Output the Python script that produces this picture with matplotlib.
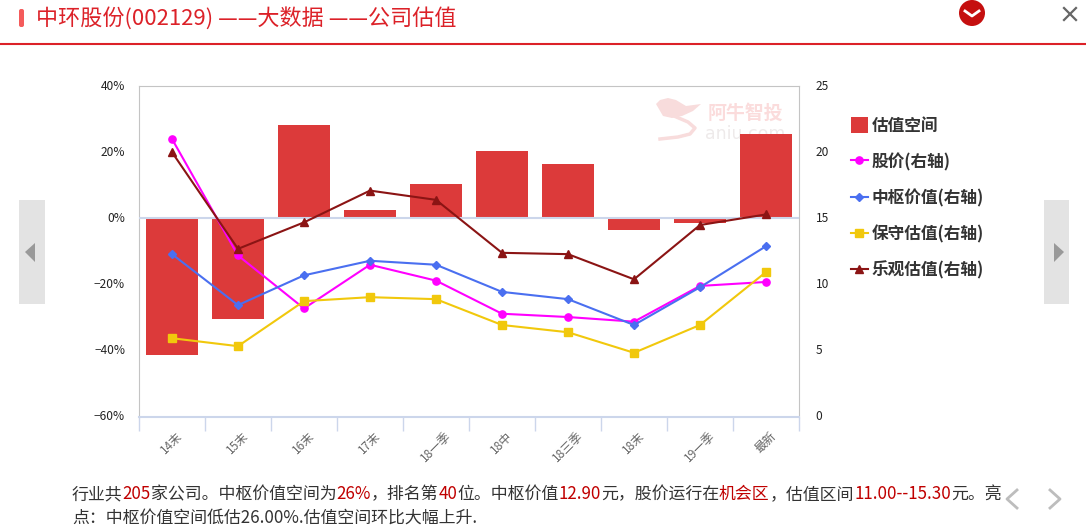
import matplotlib
matplotlib.use('Agg')
import matplotlib.pyplot as plt
import numpy as np
from matplotlib.patches import Rectangle, Circle, Polygon, FancyBboxPatch
from matplotlib.transforms import ScaledTranslation

plt.rcParams['font.family'] = ['Noto Sans CJK SC', 'DejaVu Sans']
plt.rcParams['axes.unicode_minus'] = False

W, H = 1086, 529

categories = ['14末', '15末', '16末', '17末', '18一季', '18中', '18三季', '18末', '19一季', '最新']
space = [-41.3, -30.4, 28.2, 2.5, 10.4, 20.4, 16.4, -3.5, -1.4, 25.5]
price = [21.0, 12.2, 8.2, 11.5, 10.3, 7.8, 7.55, 7.2, 9.9, 10.2]
central = [12.3, 8.45, 10.7, 11.8, 11.5, 9.45, 8.9, 6.95, 9.8, 12.9]
conservative = [5.95, 5.35, 8.75, 9.05, 8.9, 6.95, 6.4, 4.85, 6.95, 10.95]
optimistic = [20.0, 12.7, 14.7, 17.1, 16.4, 12.4, 12.3, 10.4, 14.5, 15.3]
left_ticks = [-60, -40, -20, 0, 20, 40]
right_ticks = [0, 5, 10, 15, 20, 25]

RED = '#dc2128'
AXIS_BLUE = '#ccd6eb'

fig = plt.figure(figsize=(W / 100, H / 100), dpi=100)

# page chrome, in pixel coordinates
bg = fig.add_axes([0, 0, 1, 1])
bg.set_xlim(0, W)
bg.set_ylim(H, 0)
bg.axis('off')
bg.plot([0, W], [44, 44], color=RED, lw=1.5)
bg.add_patch(FancyBboxPatch((19, 9), 5, 18, boxstyle='round,pad=0,rounding_size=2',
                            color='#f45b5b', lw=0))
bg.text(36, 18, '中环股份(002129) ——大数据 ——公司估值', color=RED, fontsize=15.9, va='center')
bg.add_patch(Circle((972, 13), 13, color='#c50f0f', lw=0))
bg.plot([965, 972, 979], [11, 16, 11], color='white', lw=2)
bg.plot([1064, 1076], [8, 20], color='#666666', lw=1.6)
bg.plot([1064, 1076], [20, 8], color='#666666', lw=1.6)
bg.add_patch(Rectangle((19, 200), 26, 104, color='#e3e3e3', lw=0))
bg.add_patch(Rectangle((1044, 200), 25, 104, color='#e3e3e3', lw=0))
bg.add_patch(Polygon([[35, 243], [35, 262], [25, 252]], color='#999999', lw=0))
bg.add_patch(Polygon([[1054, 243], [1054, 262], [1064, 252]], color='#999999', lw=0))
bg.plot([1017, 1007, 1017], [490, 499, 508], color='#bdbdbd', lw=2)
bg.plot([1050, 1060, 1050], [490, 499, 508], color='#bdbdbd', lw=2)

# watermark logo and name sit behind the chart
bg.add_patch(Polygon([[656, 104], [660, 100], [668, 98], [676, 100], [686, 106], [701, 104],
                      [693, 111], [682, 116], [672, 118], [663, 116]], color='#f8dcdc', lw=0))
bg.plot([674, 688, 695, 690, 678, 660], [116, 122, 128, 134, 137, 139], color='#f8dcdc', lw=2.5)
bg.text(783, 113, '阿牛智投', color='#fbdcdc', fontsize=13.6, fontweight='bold', ha='right', va='center')
bg.text(785, 134, 'aniu.com', color='#eeeaea', fontsize=12.5, ha='right', va='center',
        family='DejaVu Sans')


def colored_line(x, y, parts):
    # lay the text pieces end to end, each with its own colour
    renderer = fig.canvas.get_renderer()
    for s, c in parts:
        t = bg.text(x, y, s, color=c, fontsize=12.2, va='center', ha='left')
        box = t.get_window_extent(renderer)
        x = x + box.width


DARK = '#333333'
DEEP = '#c00000'
colored_line(72, 494, [('行业共', DARK), ('205', DEEP), ('家公司。中枢价值空间为', DARK), ('26%', DEEP),
                       ('，排名第', DARK), ('40', DEEP), ('位。中枢价值', DARK), ('12.90', DEEP),
                       ('元，股价运行在', DARK), ('机会区', DEEP), ('，估值区间', DARK),
                       ('11.00--15.30', DEEP), ('元。亮', DARK)])
colored_line(72, 518, [('点：中枢价值空间低估26.00%.估值空间环比大幅上升.', DARK)])

# chart
ax = fig.add_axes([139 / W, 1 - 417 / H, (799 - 139) / W, (417 - 86) / H])
ax.patch.set_alpha(0)
x = np.arange(len(categories))
ax.bar(x, space, width=0.8, color='#dc3a3a', label='估值空间', zorder=2)
ax.axhline(0, color=AXIS_BLUE, lw=1.5, zorder=3)
ax.set_xlim(-0.5, len(categories) - 0.5)
ax.set_ylim(-60, 40)
ax.set_yticks(left_ticks)
ax.set_yticklabels([f'{v}%'.replace('-', '−') for v in left_ticks], fontsize=8.6, color='#222222')
ax.tick_params(axis='y', length=0, pad=10)
ax.set_xticks(x)
ax.set_xticklabels(categories, rotation=45, fontsize=8.6, color='#666666', ha='center', va='top')
ax.tick_params(axis='x', which='major', length=0, pad=9)
ax.set_xticks(np.arange(len(categories) + 1) - 0.5, minor=True)
ax.tick_params(axis='x', which='minor', length=10, width=1, color=AXIS_BLUE)
for side in ['top', 'left', 'right']:
    ax.spines[side].set_color('#c4c4c4')
ax.spines['bottom'].set_color(AXIS_BLUE)
ax.spines['bottom'].set_linewidth(1.5)

ax2 = ax.twinx()
ax2.patch.set_alpha(0)
ax2.set_ylim(0, 25)
ax2.set_yticks(right_ticks)
ax2.set_yticklabels([str(v) for v in right_ticks], fontsize=8.6, color='#222222')
ax2.tick_params(axis='y', length=0, pad=12)
for side in ax2.spines:
    ax2.spines[side].set_visible(False)

# tick labels sit a little above their gridline positions
up = ScaledTranslation(0, 1.5 / 100, fig.dpi_scale_trans)
for lbl in ax.get_yticklabels() + ax2.get_yticklabels():
    lbl.set_transform(lbl.get_transform() + up)

ax2.plot(x, price, color='#ff00ff', lw=1.5, marker='o', ms=5.2, label='股价(右轴)')
ax2.plot(x, central, color='#4a6ff0', lw=1.5, marker='D', ms=3.8, label='中枢价值(右轴)')
ax2.plot(x, conservative, color='#f1c80c', lw=1.5, marker='s', ms=5.8, label='保守估值(右轴)')
ax2.plot(x, optimistic, color='#8b1414', lw=1.5, marker='^', ms=5.2, label='乐观估值(右轴)')

handles = ax.get_legend_handles_labels()[0] + ax2.get_legend_handles_labels()[0]
labels = ax.get_legend_handles_labels()[1] + ax2.get_legend_handles_labels()[1]
leg = fig.legend(handles, labels, loc='upper left', bbox_to_anchor=(836 / W, 1 - 102 / H),
                 frameon=False, labelcolor='#333333', handlelength=1.0, handleheight=1.1,
                 handletextpad=0.25, labelspacing=1.08,
                 prop={'family': ['Noto Sans CJK SC', 'DejaVu Sans'], 'weight': 'bold', 'size': 12})

fig.savefig('out.png', dpi=100)
